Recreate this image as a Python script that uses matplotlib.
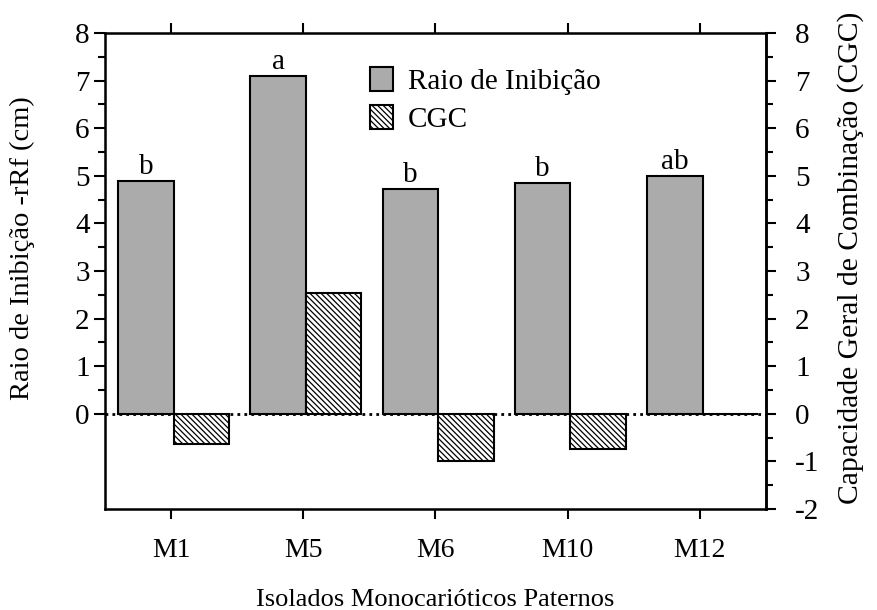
import numpy as np
import matplotlib
matplotlib.use("Agg")
import matplotlib.pyplot as plt

plt.rcParams['font.family'] = ['Liberation Serif', 'DejaVu Serif']
plt.rcParams['hatch.linewidth'] = 0.9
plt.rcParams['axes.unicode_minus'] = False

isolados = ["M1", "M5", "M6", "M10", "M12"]
raio = [4.89, 7.09, 4.72, 4.85, 5.0]
cgc = [-0.63, 2.53, -1.0, -0.73, 0.0]
letras = ["b", "a", "b", "b", "ab"]

x = np.arange(len(isolados))
w = 0.42

fig = plt.figure(figsize=(8.78, 6.10), dpi=100)
ax = fig.add_axes([0.1196, 0.1656, 0.7528, 0.7804])

ax.axhline(0, color="black", lw=2, ls=(0, (1, 1.5)), zorder=1)
b1 = ax.bar(x - w / 2 + 0.02, raio, w, color="#ababab", edgecolor="black", lw=1.5,
            label="Raio de Inibição", zorder=2)
b2 = ax.bar(x + w / 2 + 0.02, cgc, w, color="white", edgecolor="black", lw=1.5,
            hatch="\\\\\\\\\\\\", label="CGC", zorder=2)

for xi, v, l in zip(x, raio, letras):
    ax.annotate(l, (xi - w / 2 + 0.02, v), xytext=(0, 5), textcoords="offset points",
                ha="center", va="baseline", fontsize=21)

ax.set_xlim(-0.5, 4.5)
ax.set_ylim(-2, 8)
ax.set_yticks(range(0, 9))
ax.set_yticks(np.arange(0.5, 8, 1), minor=True)
ax.set_xticks(x)
ax.set_xticklabels(isolados)
ax.tick_params(axis="y", which="major", length=8, width=1.5, labelsize=21, pad=3)
ax.tick_params(axis="y", which="minor", length=5, width=1.5)
ax.tick_params(axis="x", length=7, width=1.5, labelsize=20, pad=14,
               top=True, direction="out")
for s in ax.spines.values():
    s.set_linewidth(1.8)

ax2 = ax.twinx()
ax2.set_ylim(-2, 8)
ax2.set_yticks(range(-2, 9))
ax2.set_yticks(np.arange(-1.5, 8, 1), minor=True)
ax2.tick_params(axis="y", which="major", length=7, width=1.5, labelsize=21, pad=14)
ax2.tick_params(axis="y", which="minor", length=5, width=1.5)
ax2.spines["right"].set_linewidth(1.8)

ax.set_ylabel("Raio de Inibição -rRf (cm)", fontsize=20.5)
ax.yaxis.set_label_coords(-0.106, 0.548)
ax2.set_ylabel("Capacidade Geral de Combinação (CGC)", fontsize=21.3)
ax2.yaxis.set_label_coords(1.108, 0.527)
ax.set_xlabel("Isolados Monocarióticos Paternos", fontsize=19)
ax.xaxis.set_label_coords(0.5, -0.168)

ax.legend(handles=[b1, b2], loc="upper left",
          bbox_to_anchor=(370 / 878, 1 - 67 / 610), bbox_transform=fig.transFigure,
          frameon=False, fontsize=21, borderpad=0, borderaxespad=0,
          handlelength=0.8, handleheight=0.9, handletextpad=0.5,
          labelspacing=0.32)

fig.savefig("out.png", dpi=100)
